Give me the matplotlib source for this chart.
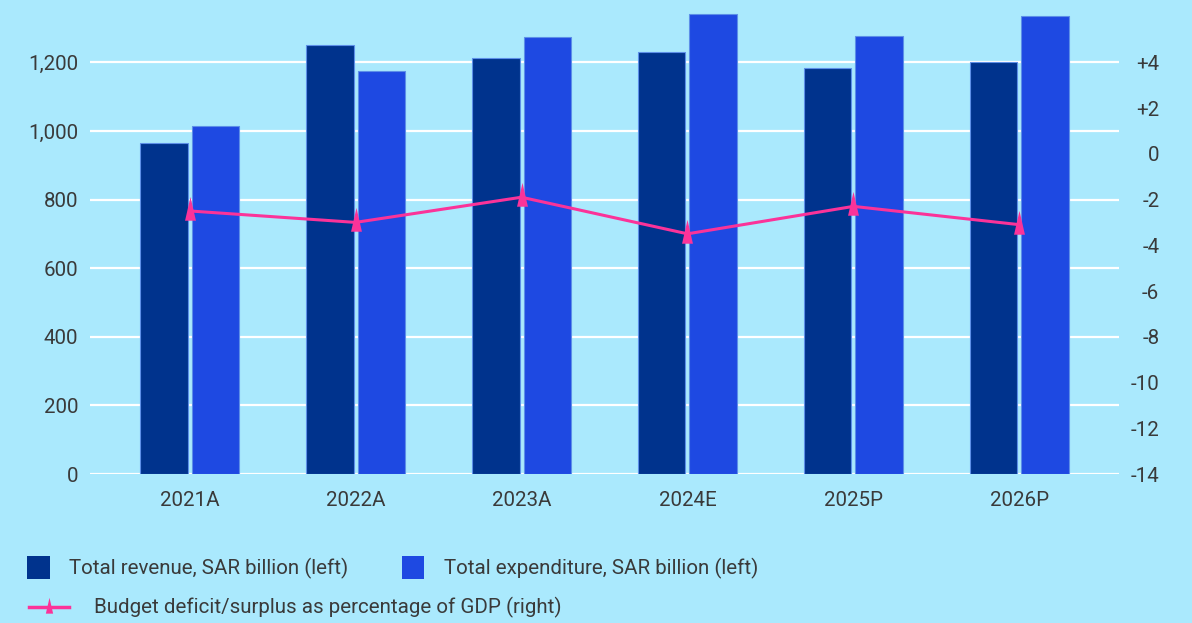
import matplotlib
matplotlib.use("Agg")
import matplotlib.pyplot as plt
from matplotlib.patches import Rectangle
from matplotlib.lines import Line2D
from matplotlib.ticker import FuncFormatter
import numpy as np

plt.rcParams['font.family'] = ['Roboto', 'DejaVu Sans']

# Budget data
years = ["2021A", "2022A", "2023A", "2024E", "2025P", "2026P"]
revenue = [965, 1250, 1212, 1229, 1184, 1200]          # SAR billion
expenditure = [1015, 1174, 1273, 1340, 1276, 1334]     # SAR billion
balance_pct = [-2.5, -3.0, -1.9, -3.5, -2.3, -3.1]     # % of GDP

left_ticks = [0, 200, 400, 600, 800, 1000, 1200]
right_ticks = [-14, -12, -10, -8, -6, -4, -2, 0, 2, 4]

BG = "#aae9fd"
NAVY = "#00338d"
BLUE = "#1e49e2"
PINK = "#fb3399"
TEXT = "#3a3a3a"
EDGE = "#5d8fe8"
FS = 14.8

W, H = 1192, 623
fig = plt.figure(figsize=(W / 100, H / 100), dpi=100, facecolor=BG)

ax_l, ax_r, ax_b, ax_t = 90, 1119, 474, 0
ax = fig.add_axes([ax_l / W, 1 - ax_b / H, (ax_r - ax_l) / W, (ax_b - ax_t) / H])
ax.set_facecolor(BG)

x = np.arange(len(years))
bw = 0.285
gap = 0.012
ax.bar(x - bw / 2 - gap, revenue, width=bw, color=NAVY, edgecolor=EDGE,
       linewidth=0.8, zorder=3)
ax.bar(x + bw / 2 + gap, expenditure, width=bw, color=BLUE, edgecolor=EDGE,
       linewidth=0.8, zorder=3)

ymax = 1381.5
ax.set_ylim(0, ymax)
ax.set_xlim(-0.6, 5.6)
ax.set_yticks(left_ticks)
ax.yaxis.set_major_formatter(FuncFormatter(lambda v, p: f"{int(v):,}"))
ax.set_xticks(x)
ax.set_xticklabels(years)
ax.grid(axis="y", color="white", linewidth=1.6, zorder=0)
ax.set_axisbelow(True)
for s in ax.spines.values():
    s.set_visible(False)
ax.tick_params(axis="both", length=0, labelsize=FS, labelcolor=TEXT)
ax.tick_params(axis="y", pad=8.5)
ax.tick_params(axis="x", pad=12.5)

# Right axis: -14 aligned with 0, scale 18 points per 1200
ax2 = ax.twinx()
ax2.set_ylim(-14, -14 + ymax * 18 / 1200)
ax2.set_yticks(right_ticks)
ax2.set_yticklabels([f"+{v}" if v > 0 else str(v) for v in right_ticks])
for s in ax2.spines.values():
    s.set_visible(False)
ax2.tick_params(axis="y", length=0, labelsize=FS, labelcolor=TEXT, pad=29)
for lbl in ax2.get_yticklabels():
    lbl.set_horizontalalignment("right")

tri = [(-5.5, -9.3), (5.5, -9.3), (0, 14.7), (-5.5, -9.3)]
ax2.plot(x, balance_pct, color=PINK, linewidth=2.2, marker=tri,
         markersize=21, markerfacecolor=PINK, markeredgewidth=0, zorder=5)

# Legend
def fx(px):
    return px / W

def fy(py):
    return 1 - py / H

fig.add_artist(Rectangle((fx(27), fy(579)), 23 / W, 23 / H, transform=fig.transFigure,
                         facecolor=NAVY, edgecolor="none"))
fig.text(fx(69), fy(568), "Total revenue, SAR billion (left)", fontsize=FS,
         color=TEXT, va="center", ha="left")
fig.add_artist(Rectangle((fx(402), fy(579)), 22 / W, 23 / H, transform=fig.transFigure,
                         facecolor=BLUE, edgecolor="none"))
fig.text(fx(444), fy(568), "Total expenditure, SAR billion (left)", fontsize=FS,
         color=TEXT, va="center", ha="left")
fig.add_artist(Line2D([fx(29), fx(69)], [fy(607), fy(607)], transform=fig.transFigure,
                      color=PINK, linewidth=2.5))
fig.add_artist(Line2D([fx(49)], [fy(607)], transform=fig.transFigure, marker=tri,
                      markersize=14, color=PINK, markeredgewidth=0))
fig.text(fx(94), fy(607), "Budget deficit/surplus as percentage of GDP (right)",
         fontsize=FS, color=TEXT, va="center", ha="left")

fig.savefig("out.png", dpi=100, facecolor=BG)
